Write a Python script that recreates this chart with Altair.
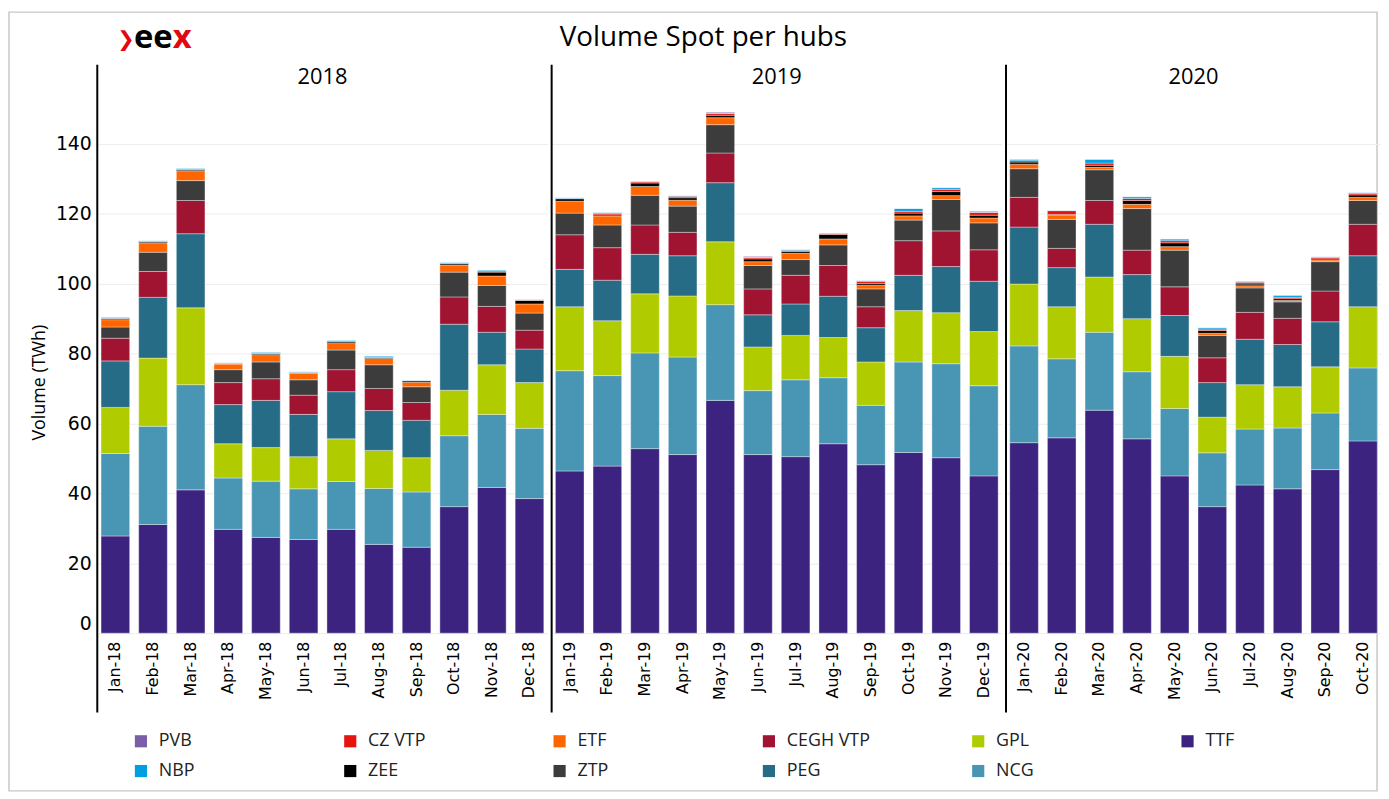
import altair as alt
import pandas as pd

months = ["Jan-18", "Feb-18", "Mar-18", "Apr-18", "May-18", "Jun-18", "Jul-18", "Aug-18", "Sep-18", "Oct-18", "Nov-18", "Dec-18",
          "Jan-19", "Feb-19", "Mar-19", "Apr-19", "May-19", "Jun-19", "Jul-19", "Aug-19", "Sep-19", "Oct-19", "Nov-19", "Dec-19",
          "Jan-20", "Feb-20", "Mar-20", "Apr-20", "May-20", "Jun-20", "Jul-20", "Aug-20", "Sep-20", "Oct-20"]
years = [2018] * 12 + [2019] * 12 + [2020] * 10

TTF = [27.8, 31.1, 41.0, 29.7, 27.4, 26.8, 29.7, 25.4, 24.6, 36.2, 41.7, 38.5,
       46.4, 47.8, 52.8, 51.1, 66.6, 51.1, 50.5, 54.2, 48.2, 51.7, 50.2, 45.0,
       54.5, 55.9, 63.8, 55.6, 45.0, 36.2, 42.4, 41.3, 46.8, 55.0]
NCG = [23.6, 28.1, 30.1, 14.7, 16.1, 14.5, 13.7, 16.0, 15.8, 20.3, 20.9, 20.1,
       28.7, 25.9, 27.4, 27.9, 27.4, 18.3, 22.0, 18.9, 17.0, 25.9, 26.9, 25.8,
       27.7, 22.6, 22.3, 19.2, 19.3, 15.4, 16.0, 17.4, 16.2, 20.9]
GPL = [13.2, 19.5, 22.0, 9.8, 9.6, 9.2, 12.2, 10.9, 9.8, 13.0, 14.2, 13.1,
       18.3, 15.7, 16.9, 17.5, 18.0, 12.5, 12.7, 11.5, 12.4, 14.7, 14.6, 15.5,
       17.7, 14.9, 15.8, 15.2, 14.9, 10.2, 12.7, 11.8, 13.2, 17.5]
PEG = [13.3, 17.4, 21.2, 11.2, 13.5, 12.1, 13.5, 11.4, 10.7, 18.9, 9.3, 9.6,
       10.7, 11.6, 11.3, 11.5, 16.9, 9.2, 9.0, 11.8, 9.8, 10.1, 13.2, 14.4,
       16.3, 11.2, 15.1, 12.6, 11.7, 9.9, 13.0, 12.1, 12.9, 14.6]
CEGH_VTP = [6.5, 7.4, 9.5, 6.3, 6.2, 5.5, 6.3, 6.3, 5.1, 7.8, 7.4, 5.4,
            9.9, 9.3, 8.4, 6.7, 8.5, 7.4, 8.2, 8.8, 6.0, 9.9, 10.2, 9.0,
            8.5, 5.5, 6.8, 7.0, 8.2, 7.1, 7.7, 7.5, 8.8, 9.0]
ZTP = [3.2, 5.5, 5.7, 3.7, 4.8, 4.4, 5.6, 6.8, 4.5, 7.1, 6.0, 4.9,
       6.2, 6.5, 8.5, 7.5, 8.1, 6.7, 4.5, 5.9, 5.1, 5.9, 9.0, 7.7,
       8.2, 8.3, 8.8, 11.9, 10.5, 6.4, 7.0, 4.7, 8.4, 6.8]
ETF = [2.1, 2.7, 2.8, 1.6, 2.1, 1.9, 1.9, 1.8, 1.3, 2.0, 2.7, 2.6,
       3.4, 2.6, 2.5, 1.7, 2.0, 1.1, 1.8, 1.7, 1.0, 1.2, 1.1, 1.4,
       1.3, 1.2, 0.7, 1.2, 1.0, 0.6, 0.6, 0.4, 0.5, 0.9]
ZEE = [0.3, 0.3, 0.3, 0.1, 0.3, 0.1, 0.4, 0.3, 0.4, 0.4, 1.1, 1.0,
       0.7, 0.3, 1.0, 0.7, 0.7, 0.8, 0.5, 1.3, 0.5, 0.8, 1.2, 0.8,
       0.6, 0.2, 0.6, 1.1, 1.1, 0.8, 0.5, 0.5, 0.3, 0.7]
CZ_VTP = [0.1, 0.1, 0.1, 0.1, 0.1, 0.1, 0.2, 0.1, 0.1, 0.1, 0.3, 0.1,
          0.1, 0.4, 0.3, 0.4, 0.5, 0.4, 0.3, 0.2, 0.6, 0.5, 0.6, 0.8,
          0.4, 1.1, 0.6, 0.6, 0.6, 0.4, 0.5, 0.4, 0.4, 0.4]
NBP = [0.3, 0.2, 0.3, 0.2, 0.3, 0.2, 0.3, 0.3, 0.1, 0.3, 0.3, 0.2,
       0.2, 0.3, 0.2, 0.2, 0.2, 0.1, 0.3, 0.2, 0.3, 0.8, 0.5, 0.1,
       0.4, 0.1, 1.1, 0.5, 0.5, 0.4, 0.3, 0.6, 0.2, 0.3]
PVB = [0.0, 0.0, 0.0, 0.0, 0.0, 0.0, 0.0, 0.0, 0.0, 0.0, 0.0, 0.0,
       0.0, 0.0, 0.0, 0.0, 0.2, 0.2, 0.0, 0.0, 0.0, 0.0, 0.0, 0.2,
       0.0, 0.0, 0.0, 0.0, 0.0, 0.0, 0.0, 0.0, 0.0, 0.0]

stack_order = ["TTF", "NCG", "GPL", "PEG", "CEGH VTP", "ZTP", "ETF", "ZEE", "CZ VTP", "NBP", "PVB"]
# legend is filled column by column (2 rows x 6 columns)
legend_order = ["PVB", "NBP", "CZ VTP", "ZEE", "ETF", "ZTP", "CEGH VTP", "PEG", "GPL", "NCG", "TTF"]
hub_colors = {
    "TTF": "#3C2380", "NCG": "#4896B4", "GPL": "#B0CC00", "PEG": "#276C87",
    "CEGH VTP": "#A01432", "ZTP": "#3C3C3C", "ETF": "#FF6600", "ZEE": "#000000",
    "CZ VTP": "#E5140F", "NBP": "#00A0E0", "PVB": "#7B5EA7",
}
series = {"TTF": TTF, "NCG": NCG, "GPL": GPL, "PEG": PEG, "CEGH VTP": CEGH_VTP, "ZTP": ZTP,
          "ETF": ETF, "ZEE": ZEE, "CZ VTP": CZ_VTP, "NBP": NBP, "PVB": PVB}

rows = []
for hub, vals in series.items():
    for m, yr, v in zip(months, years, vals):
        rows.append({"month": m, "year": yr, "hub": hub, "volume": v, "rank": stack_order.index(hub)})
df = pd.DataFrame(rows)

H = 546
STEP = 37.95
LABEL_FONT = "DejaVu Sans"
TEXT_FONT = "Open Sans"
TICKS = [0, 20, 40, 60, 80, 100, 120, 140]

color_enc = alt.Color(
    "hub:N",
    scale=alt.Scale(domain=legend_order, range=[hub_colors[h] for h in legend_order]),
    legend=alt.Legend(
        title=None, orient="none", legendX=35, legendY=646, columns=6,
        symbolType="square", symbolSize=150, symbolStrokeWidth=0,
        labelFont="Liberation Sans Narrow, Open Sans", labelFontSize=18, labelColor="#222222",
        labelOffset=9, columnPadding=100, rowPadding=12, gridAlign="all",
    ),
)

one = alt.Data(values=[{}])


def text_at(txt, x, y, size, color="black", weight="normal", font=TEXT_FONT, align="center"):
    return alt.Chart(one).mark_text(text=txt, color=color, fontSize=size, fontWeight=weight,
                                    align=align, baseline="middle", font=font).encode(
        x=alt.value(x), y=alt.value(y))


def panel(year, first):
    d = df[df.year == year]
    mlist = [m for m, yr in zip(months, years) if yr == year]
    n = len(mlist)
    width = STEP * (n - 0.24 + 0.2)
    if first:
        yaxis = alt.Axis(
            title="Volume (TWh)", values=TICKS,
            labelFont=LABEL_FONT, labelFontSize=19, labelColor="black", labelPadding=6,
            labelFlush=True, domain=False, ticks=False, grid=True,
            titleFont=TEXT_FONT, titleFontSize=18, titleFontWeight="normal", titleColor="black",
            titleX=-58, titleY=293, titleBaseline="middle", titleAlign="center", titleAngle=270,
        )
    else:
        yaxis = alt.Axis(title=None, labels=False, ticks=False, domain=False, grid=True, values=TICKS)
    bars = alt.Chart(d).mark_bar(stroke="white", strokeWidth=0.6, strokeOpacity=0.6).encode(
        x=alt.X("month:N", sort=mlist,
                scale=alt.Scale(paddingInner=0.24, paddingOuter=0.1),
                axis=alt.Axis(title=None, labelAngle=270, labelFont=LABEL_FONT, labelFontSize=16,
                              labelColor="black", labelPadding=8, ticks=False, domain=False)),
        y=alt.Y("volume:Q", stack="zero", scale=alt.Scale(domain=[0, 155], nice=False), axis=yaxis),
        color=color_enc,
        order=alt.Order("rank:Q", sort="ascending"),
        tooltip=["month:N", "hub:N", "volume:Q"],
    )
    divider = alt.Chart(one).mark_rule(color="black", strokeWidth=2).encode(
        x=alt.value(0), y=alt.value(-27), y2=alt.value(H + 80)
    )
    header = text_at(str(year), width / 2, -15, 22)
    layers = [bars, divider, header]
    if first:
        frame = alt.Chart(one).mark_rect(fill="transparent", stroke="#C8C8C8", strokeWidth=1.5).encode(
            x=alt.value(-89), x2=alt.value(1290), y=alt.value(-80), y2=alt.value(705))
        layers = [frame] + layers + [
            text_at("❯", 20, -52, 21, color="#E30613", weight="bold", font=LABEL_FONT, align="left"),
            text_at("ee", 37, -54, 33, weight="bold", align="left"),
            text_at("x", 76, -54, 33, color="#E30613", weight="bold", align="left"),
        ]
    if year == 2019:
        layers += [text_at("Volume Spot per hubs", 705 - 552, -54, 28)]
    return alt.layer(*layers).properties(width=alt.Step(STEP), height=H)


chart = alt.hconcat(panel(2018, True), panel(2019, False), panel(2020, False),
                    spacing=4, bounds="flush").properties(
    padding={"left": 0, "top": 0, "right": 0, "bottom": 0}
).configure_view(stroke=None).configure_axis(
    gridColor="#EDEDED", gridWidth=1
)

chart.save("out.html", embed_options={"renderer": "svg", "actions": False})
